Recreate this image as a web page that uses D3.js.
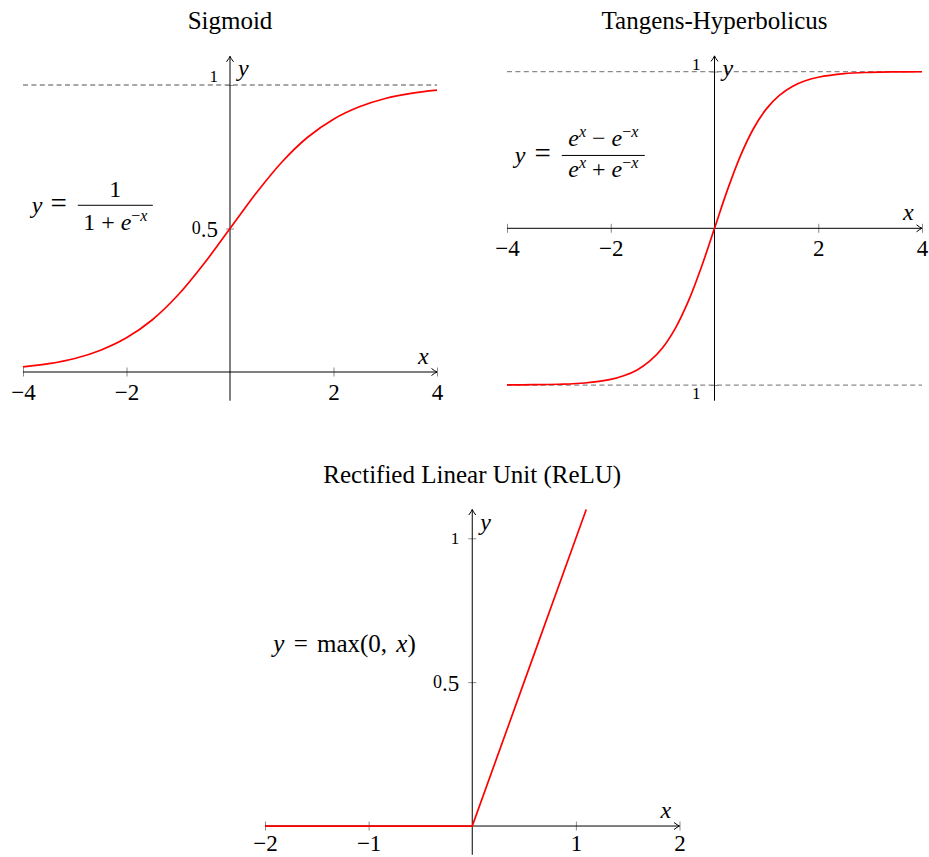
<!DOCTYPE html>
<html>
<head>
<meta charset="utf-8">
<script src="https://cdn.jsdelivr.net/npm/d3@7"></script>
<style>
  html, body { margin: 0; padding: 0; background: #fff; }
  svg text { font-family: "Liberation Serif", "Times New Roman", serif; fill: #000; }
  .it { font-style: italic; }
</style>
</head>
<body>
<svg id="chart" width="929" height="857"></svg>
<script>
// Sampled values of the three activation functions
const sigmoidX = [-4, -3.5, -3, -2.5, -2, -1.5, -1, -0.5, 0, 0.5, 1, 1.5, 2, 2.5, 3, 3.5, 4];
const sigmoidY = [0.018, 0.029, 0.047, 0.076, 0.119, 0.182, 0.269, 0.378, 0.5, 0.622, 0.731, 0.818, 0.881, 0.924, 0.953, 0.971, 0.982];

const tanhX = [-4, -3.5, -3, -2.5, -2, -1.75, -1.5, -1.25, -1, -0.75, -0.5, -0.25, 0, 0.25, 0.5, 0.75, 1, 1.25, 1.5, 1.75, 2, 2.5, 3, 3.5, 4];
const tanhY = [-0.999, -0.998, -0.995, -0.987, -0.964, -0.941, -0.905, -0.848, -0.762, -0.635, -0.462, -0.245, 0, 0.245, 0.462, 0.635, 0.762, 0.848, 0.905, 0.941, 0.964, 0.987, 0.995, 0.998, 0.999];

const reluX = [-2, -1, 0, 0.5, 1, 1.1];
const reluY = [0, 0, 0, 0.5, 1, 1.1];

// Ticks and their labels
const sigmoidXTicks = [-4, -2, 2, 4];
const sigmoidYTicks = [0.5, 1];
const sigmoidYLabels = ["0.5", "1"];
const sigmoidAsymptotes = [1];

const tanhXTicks = [-4, -2, 2, 4];
const tanhYTicks = [-1, 1];
const tanhYLabels = ["1", "1"];
const tanhAsymptotes = [-1, 1];

const reluXTicks = [-2, -1, 1, 2];
const reluYTicks = [0.5, 1];
const reluYLabels = ["0.5", "1"];

const titles = ["Sigmoid", "Tangens-Hyperbolicus", "Rectified Linear Unit (ReLU)"];

const svg = d3.select("#chart");
const RED = "#ff0000";
const GRAY = "#8a8a8a";
const TICK_FS = 23;

function arrowRight(g, x, y) {
  g.append("path")
    .attr("d", `M${x - 5.5},${y - 3.5} Q${x - 2},${y - 0.8} ${x},${y} Q${x - 2},${y + 0.8} ${x - 5.5},${y + 3.5}`)
    .attr("fill", "none").attr("stroke", "#000").attr("stroke-width", 1);
}
function arrowUp(g, x, y) {
  g.append("path")
    .attr("d", `M${x - 3.5},${y + 5.5} Q${x - 0.8},${y + 2} ${x},${y} Q${x + 0.8},${y + 2} ${x + 3.5},${y + 5.5}`)
    .attr("fill", "none").attr("stroke", "#000").attr("stroke-width", 1);
}

// Draws one panel: axes through the origin, ticks, asymptotes, curve and labels
function panel(cfg) {
  const g = svg.append("g");
  const x = d3.scaleLinear().domain(cfg.xDomain).range(cfg.xRange);
  const y = d3.scaleLinear().domain(cfg.yDomain).range(cfg.yRange);
  const x0 = x(0), y0 = y(0);

  // title
  g.append("text").attr("x", x0).attr("y", cfg.titleY)
    .attr("text-anchor", "middle").attr("font-size", 25).text(cfg.title);

  // dashed asymptotes
  (cfg.asymptotes || []).forEach(v => {
    g.append("line")
      .attr("x1", x(cfg.xDomain[0])).attr("x2", x(cfg.xDomain[1]))
      .attr("y1", y(v)).attr("y2", y(v))
      .attr("stroke", GRAY).attr("stroke-width", 1.3)
      .attr("stroke-dasharray", "5,3.4");
  });

  // x axis ticks and labels
  const xAxis = d3.axisBottom(x).tickValues(cfg.xTicks)
    .tickFormat(d3.format("d")).tickSize(4.5).tickPadding(9);
  const gx = g.append("g").attr("transform", `translate(0,${y0})`).call(xAxis);
  gx.select(".domain").remove();
  gx.selectAll(".tick line").attr("y1", -4.5).attr("y2", 4.5)
    .attr("stroke", GRAY).attr("stroke-width", 1);
  gx.selectAll(".tick text")
    .attr("font-family", "Liberation Serif, serif").attr("font-size", TICK_FS)
    .attr("fill", "#000").attr("y", 0).attr("dy", cfg.xLabelDy);

  // y axis ticks and labels
  const yAxis = d3.axisLeft(y).tickValues(cfg.yTicks)
    .tickFormat((d, i) => cfg.yLabels[i]).tickSize(4).tickPadding(0);
  const gy = g.append("g").attr("transform", `translate(${x0},0)`).call(yAxis);
  gy.select(".domain").remove();
  gy.selectAll(".tick line").attr("x1", -4).attr("x2", 4)
    .attr("stroke", GRAY).attr("stroke-width", 1);
  gy.selectAll(".tick text").each(function (d, i) {
    const t = d3.select(this);
    const label = cfg.yLabels[i];
    t.text(null).attr("font-family", "Liberation Serif, serif").attr("fill", "#000")
      .attr("x", -cfg.yLabelGap).attr("dy", null).attr("y", cfg.yLabelDy[i])
      .attr("text-anchor", "end");
    // old-style figures: short one and zero, descending five
    if (label === "1") {
      t.append("tspan").attr("font-size", 17).text("1");
    } else {
      t.append("tspan").attr("font-size", 18).attr("dx", 0).text("0");
      t.append("tspan").attr("font-size", 23).attr("dy", 3).text(".5");
    }
  });

  // axis lines with arrow tips
  const xa = x(cfg.xDomain[1]), xb = x(cfg.xDomain[0]);
  g.append("line").attr("x1", xb).attr("x2", xa).attr("y1", y0).attr("y2", y0)
    .attr("stroke", "#000").attr("stroke-width", 1);
  arrowRight(g, xa, y0);
  const yTop = y(cfg.yDomain[1]), yBot = y(cfg.yDomain[0]);
  g.append("line").attr("x1", x0).attr("x2", x0).attr("y1", yBot).attr("y2", yTop)
    .attr("stroke", "#000").attr("stroke-width", 1);
  arrowUp(g, x0, yTop);

  // curve
  const pts = cfg.xs.map((v, i) => [v, cfg.ys[i]]);
  g.append("path").datum(pts)
    .attr("d", d3.line().x(d => x(d[0])).y(d => y(d[1])).curve(cfg.curve))
    .attr("fill", "none").attr("stroke", RED).attr("stroke-width", 1.7);

  // axis names
  g.append("text").attr("class", "it").attr("x", xa - 19).attr("y", y0 - 8)
    .attr("font-size", 24).text("x");
  g.append("text").attr("class", "it").attr("x", x0 + 8).attr("y", yTop + 20)
    .attr("font-size", 24).text("y");

  return { g, x, y };
}

const FS = 24;   // formula font size
const SUP = 16;  // superscript font size

// --- Sigmoid ---
const p1 = panel({
  title: titles[0], titleY: 29,
  xDomain: [-4, 4], xRange: [23, 437],
  yDomain: [-0.1, 1.1], yRange: [400.7, 56.3],
  xTicks: sigmoidXTicks, xLabelDy: 28,
  yTicks: sigmoidYTicks, yLabels: sigmoidYLabels,
  yLabelGap: 12, yLabelDy: [5, -4],
  asymptotes: sigmoidAsymptotes,
  xs: sigmoidX, ys: sigmoidY, curve: d3.curveCatmullRom
});
(function () {
  const g = p1.g, x = p1.x, y = p1.y;
  const lx = x(-3.83), by = y(0.553);
  g.append("text").attr("class", "it").attr("x", lx).attr("y", by).attr("font-size", FS).text("y");
  g.append("text").attr("x", lx + 27).attr("y", by).attr("text-anchor", "middle")
    .attr("font-size", 29).text("=");
  const b0 = lx + 46, b1 = lx + 121, bc = (b0 + b1) / 2, barY = by - 8;
  g.append("line").attr("x1", b0).attr("x2", b1).attr("y1", barY).attr("y2", barY)
    .attr("stroke", "#000").attr("stroke-width", 1);
  g.append("text").attr("x", bc).attr("y", barY - 8).attr("text-anchor", "middle")
    .attr("font-size", FS).text("1");
  const den = g.append("text").attr("x", bc).attr("y", barY + 25).attr("text-anchor", "middle")
    .attr("font-size", FS);
  den.append("tspan").text("1 + ");
  den.append("tspan").attr("class", "it").text("e");
  den.append("tspan").attr("font-size", SUP).attr("dy", -9).text("−");
  den.append("tspan").attr("font-size", SUP).attr("class", "it").text("x");
})();

// --- Tangens-Hyperbolicus ---
const p2 = panel({
  title: titles[1], titleY: 29,
  xDomain: [-4, 4], xRange: [507, 922],
  yDomain: [-1.1, 1.1], yRange: [400.7, 55.9],
  xTicks: tanhXTicks, xLabelDy: 28,
  yTicks: tanhYTicks, yLabels: tanhYLabels,
  yLabelGap: 14, yLabelDy: [13, -2],
  asymptotes: tanhAsymptotes,
  xs: tanhX, ys: tanhY, curve: d3.curveCatmullRom
});
(function () {
  const g = p2.g, x = p2.x, y = p2.y;
  const lx = x(-3.85), by = y(0.417);
  g.append("text").attr("class", "it").attr("x", lx).attr("y", by).attr("font-size", FS).text("y");
  g.append("text").attr("x", lx + 28).attr("y", by).attr("text-anchor", "middle")
    .attr("font-size", 29).text("=");
  const b0 = lx + 47, b1 = lx + 130, bc = (b0 + b1) / 2, barY = by - 7.5;
  g.append("line").attr("x1", b0).attr("x2", b1).attr("y1", barY).attr("y2", barY)
    .attr("stroke", "#000").attr("stroke-width", 1);
  [["−", barY - 9], ["+", barY + 22]].forEach(([op, yy]) => {
    const t = g.append("text").attr("x", bc).attr("y", yy).attr("text-anchor", "middle")
      .attr("font-size", FS);
    t.append("tspan").attr("class", "it").text("e");
    t.append("tspan").attr("class", "it").attr("font-size", SUP).attr("dy", -9).text("x");
    t.append("tspan").attr("dy", 9).text(" " + op + " ");
    t.append("tspan").attr("class", "it").text("e");
    t.append("tspan").attr("font-size", SUP).attr("dy", -9).text("−");
    t.append("tspan").attr("class", "it").attr("font-size", SUP).text("x");
  });
})();

// --- ReLU ---
const p3 = panel({
  title: titles[2], titleY: 483,
  xDomain: [-2, 2], xRange: [265, 679.5],
  yDomain: [-0.1, 1.1], yRange: [854.8, 509.5],
  xTicks: reluXTicks, xLabelDy: 25,
  yTicks: reluYTicks, yLabels: reluYLabels,
  yLabelGap: 13, yLabelDy: [5, 5],
  asymptotes: [],
  xs: reluX, ys: reluY, curve: d3.curveLinear
});
(function () {
  const g = p3.g, x = p3.x, y = p3.y;
  const t = g.append("text").attr("x", x(-1.92)).attr("y", y(0.605))
    .attr("font-size", 25).attr("word-spacing", 3);
  t.append("tspan").attr("class", "it").text("y");
  t.append("tspan").text(" = max(0, ");
  t.append("tspan").attr("class", "it").text("x");
  t.append("tspan").text(")");
})();
</script>
</body>
</html>
